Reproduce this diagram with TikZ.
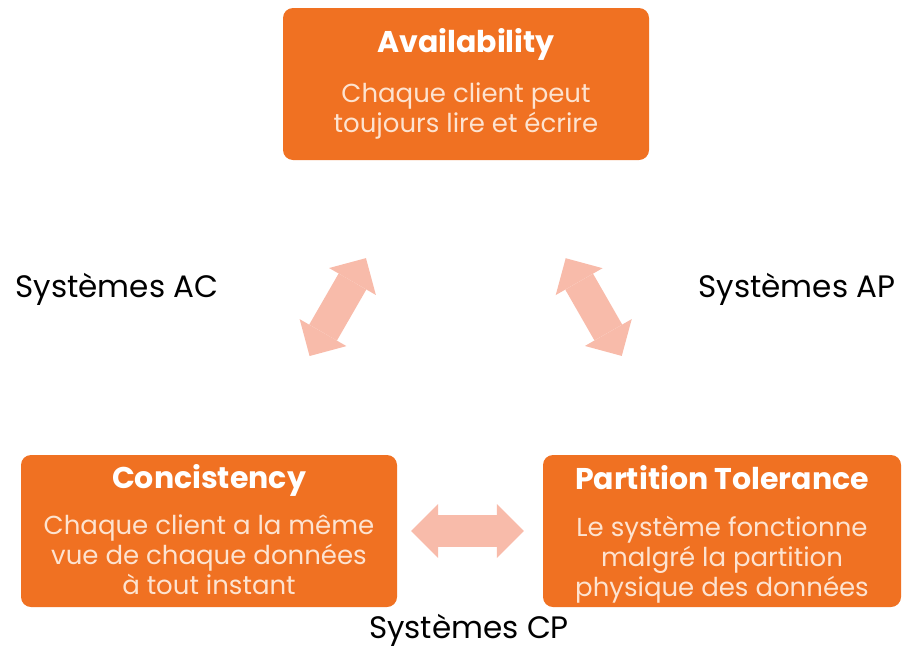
\documentclass[tikz,border=0pt]{standalone}
\usepackage{fontspec}
\setmainfont{Poppins}
\usepackage{tikz}
\usetikzlibrary{arrows.meta, positioning}
\definecolor{capfill}{HTML}{F07122}
\definecolor{captext}{HTML}{FDE3D0}
\definecolor{caparrow}{HTML}{F8BBAA}

\begin{document}
\begin{tikzpicture}[
    x=1pt, y=-1pt,
    box/.style={rectangle, rounded corners=10pt, fill=capfill, minimum height=152pt},
    head/.style={anchor=base, inner sep=0pt, text=white, font=\fontsize{30}{32}\selectfont\bfseries},
    body/.style={anchor=base, inner sep=0pt, align=center, text=captext, font=\fontsize{26}{30}\selectfont},
    sys/.style={anchor=base, inner sep=0pt, font=\fontsize{31}{34}\selectfont},
    link/.style={draw=caparrow, line width=32pt, >={Triangle[length=27pt,width=54pt,line width=0pt]}, <->}
]
\useasboundingbox (0,0) rectangle (902,654);

\node[box, minimum width=366pt] (avail) at (466,84) {};
\node[box, minimum width=376pt] (cons) at (209,531) {};
\node[box, minimum width=358pt] (part) at (722,531) {};

\node[below=45pt of avail.north, head] (availhead) {Availability};
\node[below=125pt of avail.north, body] (availbody) {Chaque client peut\\toujours lire et écrire};
\node[below=34pt of cons.north, head] (conshead) {Concistency};
\node[below=140pt of cons.north, body] (consbody) {Chaque client a la même\\vue de chaque données\\à tout instant};
\node[below=35pt of part.north, head] (parthead) {Partition Tolerance};
\node[below=142pt of part.north, body] (partbody) {Le système fonctionne\\malgré la partition\\physique des données};

\draw[link, shorten <=114pt, shorten >=113pt] (cons) -- (avail);
\draw[link, shorten <=114pt, shorten >=113pt] (part) -- (avail);
\draw[link, shorten <=14pt, shorten >=19pt] (cons) -- (part);

\node[sys] (ac) at (117,297) {Systèmes AC};
\node[sys] (ap) at (797,297) {Systèmes AP};
\node[sys] (cp) at (469,638) {Systèmes CP};

\end{tikzpicture}
\end{document}
